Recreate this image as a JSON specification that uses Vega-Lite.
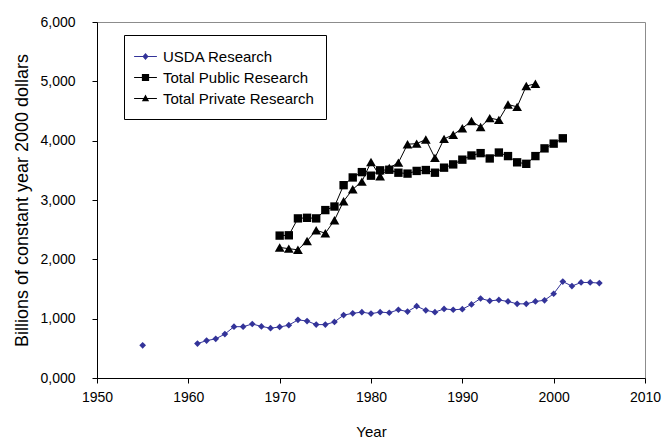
{
  "$schema": "https://vega.github.io/schema/vega-lite/v6.json",
  "autosize": {"type": "none"},
  "padding": {"left": 97, "top": 22, "right": 23, "bottom": 61},
  "width": 548,
  "height": 356,
  "config": {
    "font": "Liberation Sans",
    "view": {"stroke": "#8c8c8c", "strokeWidth": 1},
    "axis": {"grid": false, "domainColor": "black", "tickColor": "black", "labelColor": "black", "titleColor": "black", "labelFontSize": 14, "titleFontSize": 15, "titleFontWeight": "normal", "tickSize": 5, "labelFlush": false, "labelFont": "Liberation Sans", "titleFont": "Liberation Sans"}
  },
  "data": {"values": [
    {"year": 1955, "series": "USDA Research", "value": 0.55},
    {"year": 1958, "series": "USDA Research", "value": null},
    {"year": 1961, "series": "USDA Research", "value": 0.58},
    {"year": 1962, "series": "USDA Research", "value": 0.63},
    {"year": 1963, "series": "USDA Research", "value": 0.66},
    {"year": 1964, "series": "USDA Research", "value": 0.74},
    {"year": 1965, "series": "USDA Research", "value": 0.865},
    {"year": 1966, "series": "USDA Research", "value": 0.865},
    {"year": 1967, "series": "USDA Research", "value": 0.91},
    {"year": 1968, "series": "USDA Research", "value": 0.87},
    {"year": 1969, "series": "USDA Research", "value": 0.84},
    {"year": 1970, "series": "USDA Research", "value": 0.86},
    {"year": 1971, "series": "USDA Research", "value": 0.89},
    {"year": 1972, "series": "USDA Research", "value": 0.98},
    {"year": 1973, "series": "USDA Research", "value": 0.96},
    {"year": 1974, "series": "USDA Research", "value": 0.90},
    {"year": 1975, "series": "USDA Research", "value": 0.90},
    {"year": 1976, "series": "USDA Research", "value": 0.945},
    {"year": 1977, "series": "USDA Research", "value": 1.06},
    {"year": 1978, "series": "USDA Research", "value": 1.09},
    {"year": 1979, "series": "USDA Research", "value": 1.11},
    {"year": 1980, "series": "USDA Research", "value": 1.085},
    {"year": 1981, "series": "USDA Research", "value": 1.11},
    {"year": 1982, "series": "USDA Research", "value": 1.10},
    {"year": 1983, "series": "USDA Research", "value": 1.15},
    {"year": 1984, "series": "USDA Research", "value": 1.12},
    {"year": 1985, "series": "USDA Research", "value": 1.21},
    {"year": 1986, "series": "USDA Research", "value": 1.14},
    {"year": 1987, "series": "USDA Research", "value": 1.11},
    {"year": 1988, "series": "USDA Research", "value": 1.165},
    {"year": 1989, "series": "USDA Research", "value": 1.15},
    {"year": 1990, "series": "USDA Research", "value": 1.16},
    {"year": 1991, "series": "USDA Research", "value": 1.24},
    {"year": 1992, "series": "USDA Research", "value": 1.34},
    {"year": 1993, "series": "USDA Research", "value": 1.30},
    {"year": 1994, "series": "USDA Research", "value": 1.315},
    {"year": 1995, "series": "USDA Research", "value": 1.29},
    {"year": 1996, "series": "USDA Research", "value": 1.25},
    {"year": 1997, "series": "USDA Research", "value": 1.25},
    {"year": 1998, "series": "USDA Research", "value": 1.29},
    {"year": 1999, "series": "USDA Research", "value": 1.31},
    {"year": 2000, "series": "USDA Research", "value": 1.42},
    {"year": 2001, "series": "USDA Research", "value": 1.625},
    {"year": 2002, "series": "USDA Research", "value": 1.55},
    {"year": 2003, "series": "USDA Research", "value": 1.61},
    {"year": 2004, "series": "USDA Research", "value": 1.61},
    {"year": 2005, "series": "USDA Research", "value": 1.60},
    {"year": 1970, "series": "Total Public Research", "value": 2.40},
    {"year": 1971, "series": "Total Public Research", "value": 2.405},
    {"year": 1972, "series": "Total Public Research", "value": 2.69},
    {"year": 1973, "series": "Total Public Research", "value": 2.70},
    {"year": 1974, "series": "Total Public Research", "value": 2.69},
    {"year": 1975, "series": "Total Public Research", "value": 2.83},
    {"year": 1976, "series": "Total Public Research", "value": 2.89},
    {"year": 1977, "series": "Total Public Research", "value": 3.25},
    {"year": 1978, "series": "Total Public Research", "value": 3.38},
    {"year": 1979, "series": "Total Public Research", "value": 3.47},
    {"year": 1980, "series": "Total Public Research", "value": 3.41},
    {"year": 1981, "series": "Total Public Research", "value": 3.50},
    {"year": 1982, "series": "Total Public Research", "value": 3.51},
    {"year": 1983, "series": "Total Public Research", "value": 3.46},
    {"year": 1984, "series": "Total Public Research", "value": 3.445},
    {"year": 1985, "series": "Total Public Research", "value": 3.49},
    {"year": 1986, "series": "Total Public Research", "value": 3.505},
    {"year": 1987, "series": "Total Public Research", "value": 3.46},
    {"year": 1988, "series": "Total Public Research", "value": 3.545},
    {"year": 1989, "series": "Total Public Research", "value": 3.60},
    {"year": 1990, "series": "Total Public Research", "value": 3.68},
    {"year": 1991, "series": "Total Public Research", "value": 3.75},
    {"year": 1992, "series": "Total Public Research", "value": 3.79},
    {"year": 1993, "series": "Total Public Research", "value": 3.70},
    {"year": 1994, "series": "Total Public Research", "value": 3.80},
    {"year": 1995, "series": "Total Public Research", "value": 3.74},
    {"year": 1996, "series": "Total Public Research", "value": 3.635},
    {"year": 1997, "series": "Total Public Research", "value": 3.61},
    {"year": 1998, "series": "Total Public Research", "value": 3.74},
    {"year": 1999, "series": "Total Public Research", "value": 3.87},
    {"year": 2000, "series": "Total Public Research", "value": 3.95},
    {"year": 2001, "series": "Total Public Research", "value": 4.04},
    {"year": 1970, "series": "Total Private Research", "value": 2.20},
    {"year": 1971, "series": "Total Private Research", "value": 2.18},
    {"year": 1972, "series": "Total Private Research", "value": 2.16},
    {"year": 1973, "series": "Total Private Research", "value": 2.31},
    {"year": 1974, "series": "Total Private Research", "value": 2.49},
    {"year": 1975, "series": "Total Private Research", "value": 2.44},
    {"year": 1976, "series": "Total Private Research", "value": 2.66},
    {"year": 1977, "series": "Total Private Research", "value": 2.98},
    {"year": 1978, "series": "Total Private Research", "value": 3.18},
    {"year": 1979, "series": "Total Private Research", "value": 3.31},
    {"year": 1980, "series": "Total Private Research", "value": 3.64},
    {"year": 1981, "series": "Total Private Research", "value": 3.40},
    {"year": 1982, "series": "Total Private Research", "value": 3.54},
    {"year": 1983, "series": "Total Private Research", "value": 3.63},
    {"year": 1984, "series": "Total Private Research", "value": 3.94},
    {"year": 1985, "series": "Total Private Research", "value": 3.95},
    {"year": 1986, "series": "Total Private Research", "value": 4.02},
    {"year": 1987, "series": "Total Private Research", "value": 3.71},
    {"year": 1988, "series": "Total Private Research", "value": 4.03},
    {"year": 1989, "series": "Total Private Research", "value": 4.10},
    {"year": 1990, "series": "Total Private Research", "value": 4.21},
    {"year": 1991, "series": "Total Private Research", "value": 4.33},
    {"year": 1992, "series": "Total Private Research", "value": 4.23},
    {"year": 1993, "series": "Total Private Research", "value": 4.38},
    {"year": 1994, "series": "Total Private Research", "value": 4.35},
    {"year": 1995, "series": "Total Private Research", "value": 4.61},
    {"year": 1996, "series": "Total Private Research", "value": 4.57},
    {"year": 1997, "series": "Total Private Research", "value": 4.92},
    {"year": 1998, "series": "Total Private Research", "value": 4.96}
  ]},
  "encoding": {
    "x": {"field": "year", "type": "quantitative", "scale": {"domain": [1950, 2010], "nice": false, "zero": false},
      "axis": {"title": "Year", "values": [1950, 1960, 1970, 1980, 1990, 2000, 2010], "format": "d", "labelPadding": 7, "titlePadding": 20}},
    "y": {"field": "value", "type": "quantitative", "scale": {"domain": [0, 6], "nice": false},
      "axis": {"title": "Billions of constant year 2000 dollars", "titleFontSize": 18, "values": [0, 1, 2, 3, 4, 5, 6], "labelExpr": "replace(format(datum.value, '.3f'), '.', ',')", "labelPadding": 17, "titlePadding": 8}}
  },
  "layer": [
    {
      "mark": {"type": "line", "strokeWidth": 1},
      "encoding": {
        "color": {"field": "series", "type": "nominal", "scale": {"domain": ["USDA Research", "Total Public Research", "Total Private Research"], "range": ["#333399", "#000000", "#000000"]}, "legend": null},
        "detail": {"field": "series"}
      }
    },
    {
      "mark": {"type": "point", "filled": true, "opacity": 1},
      "encoding": {
        "color": {"field": "series", "type": "nominal", "scale": {"domain": ["USDA Research", "Total Public Research", "Total Private Research"], "range": ["#333399", "#000000", "#000000"]}, "legend": null},
        "shape": {"field": "series", "type": "nominal", "scale": {"domain": ["USDA Research", "Total Public Research", "Total Private Research"], "range": ["diamond", "square", "triangle-up"]}, "legend": null},
        "size": {"field": "series", "type": "nominal", "scale": {"domain": ["USDA Research", "Total Public Research", "Total Private Research"], "range": [45, 95, 70]}, "legend": null}
      }
    },
    {
      "mark": {"type": "point", "filled": true, "opacity": 0},
      "encoding": {
        "color": {"field": "series", "type": "nominal", "scale": {"domain": ["USDA Research", "Total Public Research", "Total Private Research"], "range": ["#333399", "#000000", "#000000"]},
          "legend": {"title": null, "orient": "none", "legendX": 27, "legendY": 13, "strokeColor": "black", "fillColor": "white", "padding": 12, "symbolSize": 361, "rowPadding": 3, "labelFontSize": 15, "labelFont": "Liberation Sans", "labelColor": "black", "labelOffset": 8, "symbolOpacity": 1, "symbolStrokeWidth": 0}},
        "shape": {"field": "series", "type": "nominal", "scale": {"domain": ["USDA Research", "Total Public Research", "Total Private Research"], "range": [
          "M-1.2,-0.05L1.2,-0.05L1.2,0.05L-1.2,0.05Z M0,-0.38L0.32,0L0,0.38L-0.32,0Z",
          "M-1.2,-0.05L1.2,-0.05L1.2,0.05L-1.2,0.05Z M-0.38,-0.38L0.38,-0.38L0.38,0.38L-0.38,0.38Z",
          "M-1.2,-0.05L1.2,-0.05L1.2,0.05L-1.2,0.05Z M0,-0.42L0.38,0.28L-0.38,0.28Z"
        ]},
          "legend": {"title": null, "orient": "none", "legendX": 27, "legendY": 13, "strokeColor": "black", "fillColor": "white", "padding": 12, "symbolSize": 361, "rowPadding": 3, "labelFontSize": 15, "labelFont": "Liberation Sans", "labelColor": "black", "labelOffset": 8, "symbolOpacity": 1, "symbolStrokeWidth": 0}}
      }
    }
  ],
  "resolve": {"scale": {"color": "independent", "shape": "independent", "size": "independent"}}
}
